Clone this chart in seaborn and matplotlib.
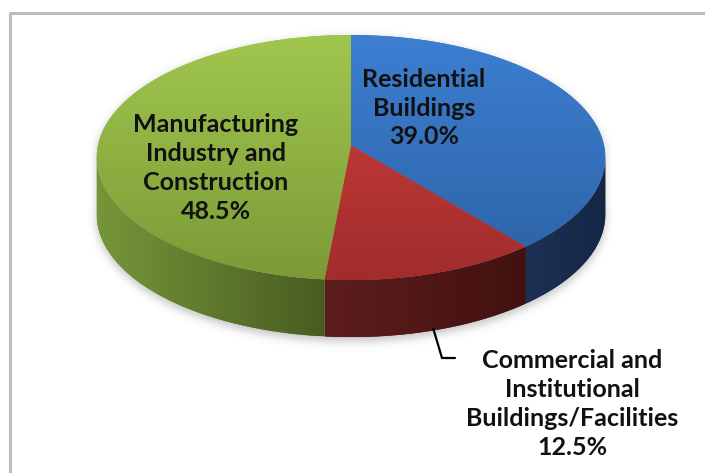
import numpy as np
import matplotlib
matplotlib.use("Agg")
import matplotlib.pyplot as plt
from matplotlib.patches import Polygon
from matplotlib.colors import to_rgb
import seaborn as sns

# Final energy use by sector (share of total, %)
sectors = ["Residential\nBuildings",
           "Commercial and\nInstitutional\nBuildings/Facilities",
           "Manufacturing\nIndustry and\nConstruction"]
shares = [39.0, 12.5, 48.5]

# top-face colours (light, dark) and rim colours (left, right)
top_colors = [("#3D7FD2", "#2C62A4"), ("#D4413E", "#A02C2C"), ("#A0C74D", "#7B9A37")]
side_colors = [("#1D3155", "#142643"), ("#5E1D1D", "#421111"), ("#76963A", "#485C21")]
label_pos = [(424, 108), (572, 404), (216, 168)]

sns.set_theme(style="white")
plt.rcParams["font.family"] = ["Lato", "DejaVu Sans"]

W, H = 705, 473
fig = plt.figure(figsize=(W / 100, H / 100), dpi=100)
ax = fig.add_axes([0, 0, 1, 1])
ax.axis("off")

# tilted disc in pixel units, with a mild perspective (k)
cx, cy, a, b, depth, k = 351, 145.3, 253, 121.3, 57, 0.1


def rim(t_deg, dy=0.0):
    t = np.radians(np.asarray(t_deg, dtype=float))
    s = 1.0 / (1.0 + k * np.cos(t))
    return np.column_stack([cx + a * np.sin(t) * s, cy - b * np.cos(t) * s + dy])


def shaded(poly, c0, c1, along, extent, z):
    c0, c1 = np.array(to_rgb(c0)), np.array(to_rgb(c1))
    patch = Polygon(poly, closed=True, facecolor=(c0 + c1) / 2,
                    edgecolor="none", zorder=z, antialiased=True)
    ax.add_patch(patch)
    ramp = np.linspace(0, 1, 256)[:, None]
    cols = c0 + (c1 - c0) * ramp
    img = cols[None, :, :] if along == "x" else cols[:, None, :]
    im = ax.imshow(img, extent=extent, origin="upper", aspect="auto",
                   interpolation="bilinear", zorder=z + 0.1)
    im.set_clip_path(patch)


def box_blur(m, r):
    kern = np.ones(2 * r + 1) / (2 * r + 1)
    m = np.apply_along_axis(lambda v: np.convolve(v, kern, mode="same"), 1, m)
    return np.apply_along_axis(lambda v: np.convolve(v, kern, mode="same"), 0, m)


# soft drop shadow beneath the disc
outline = np.vstack([rim(np.linspace(0, 360, 361)), rim(np.linspace(90, 270, 181), depth)])
sil = Polygon(np.vstack([rim(np.linspace(-90, 90, 181)),
                         rim(np.linspace(90, 270, 181), depth),
                         rim(np.linspace(270, 270, 1))]), closed=True)
yy, xx = np.mgrid[0:H, 0:W] + 0.5
pts = np.column_stack([xx.ravel(), yy.ravel() - 4])
m = sil.get_path().contains_points(pts).reshape(H, W).astype(float)
for _ in range(3):
    m = box_blur(m, 4)
shadow = np.zeros((H, W, 4))
shadow[..., :3] = 0.45
shadow[..., 3] = 0.45 * m
ax.imshow(shadow, extent=(0, W, H, 0), origin="upper", aspect="auto", zorder=0)

bounds = np.concatenate([[0], np.cumsum(shares) * 3.6])
top_extent = (cx - a - 5, cx + a + 5, cy + b / (1 - k), cy - b / (1 + k))
vis0 = np.degrees(np.arccos(-k))
vis1 = 360 - vis0

for i, ((c0, c1), (s0, s1)) in enumerate(zip(top_colors, side_colors)):
    t1, t2 = bounds[i], bounds[i + 1]
    # rim wall is seen only on the front part of the disc
    r1, r2 = max(t1, vis0), min(t2, vis1)
    if r2 > r1:
        ts = np.linspace(r1, r2, 120)
        poly = np.vstack([rim(ts), rim(ts[::-1], depth)])
        ext = (poly[:, 0].min(), poly[:, 0].max(), poly[:, 1].max(), poly[:, 1].min())
        shaded(poly, s0, s1, "x", ext, 2)
    ts = np.linspace(t1, t2, 240)
    poly = np.vstack([[cx, cy], rim(ts)])
    shaded(poly, c0, c1, "y", top_extent, 3)

# sector labels
for name, v, (lx, ly) in zip(sectors, shares, label_pos):
    ax.text(lx, ly, f"{name}\n{v:.1f}%", ha="center", va="center",
            multialignment="center", fontsize=18, fontweight="bold",
            color="#111111", linespacing=1.31, zorder=5)

# leader line for the narrow commercial slice
mid = (bounds[1] + bounds[2]) / 2
lx0, ly0 = rim([mid], depth)[0]
ax.plot([lx0, 442, 455], [ly0 - 2, 358, 358], color="black", lw=1.6,
        solid_joinstyle="miter", zorder=5)

# chart frame
ax.plot([9.5, 9.5, W + 5], [H + 5, 13.5, 13.5], color="#BDBDBD", lw=2.2, zorder=1)

ax.set_xlim(0, W)
ax.set_ylim(H, 0)
fig.savefig("out.png", dpi=100, facecolor="white")
